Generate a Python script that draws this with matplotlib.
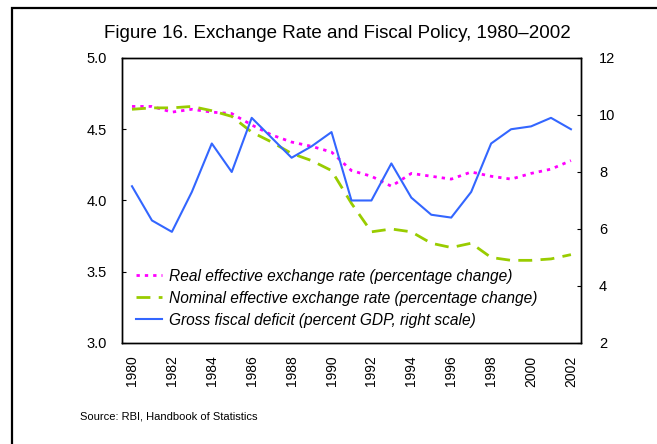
"""
Figure 16. Exchange rate and fiscal policy, 1980-2002.
"""

import matplotlib
matplotlib.use('Agg')
import matplotlib.pyplot as plt
from matplotlib.patches import Rectangle

plt.rcParams['font.family'] = ['Liberation Sans', 'DejaVu Sans']

# Data
years = list(range(1980, 2003))
reer = [4.66, 4.66, 4.62, 4.64, 4.62, 4.61, 4.53, 4.46, 4.41, 4.38, 4.34, 4.21,
        4.17, 4.10, 4.19, 4.17, 4.15, 4.20, 4.17, 4.15, 4.19, 4.22, 4.28]
neer = [4.64, 4.65, 4.65, 4.66, 4.63, 4.59, 4.48, 4.41, 4.33, 4.28, 4.21, 3.98,
        3.78, 3.80, 3.78, 3.70, 3.67, 3.70, 3.60, 3.58, 3.58, 3.59, 3.62]
deficit = [7.5, 6.3, 5.9, 7.3, 9.0, 8.0, 9.9, 9.2, 8.5, 8.9, 9.4, 7.0,
           7.0, 8.3, 7.1, 6.5, 6.4, 7.3, 9.0, 9.5, 9.6, 9.9, 9.5]
labels = ['Real effective exchange rate (percentage change)',
          'Nominal effective exchange rate (percentage change)',
          'Gross fiscal deficit (percent GDP, right scale)']
year_ticks = list(range(1980, 2003, 2))

# Create figure
fig = plt.figure(figsize=(6.57, 4.44), dpi=100)
ax = fig.add_axes([0.1857, 0.2275, 0.6985, 0.6419])
ax2 = ax.twinx()

l1, = ax.plot(years, reer, color='#FF00FF', lw=2.0, linestyle=(0, (1.2, 1.8)))
l2, = ax.plot(years, neer, color='#99CC00', lw=2.0, linestyle=(0, (5, 3)))
l3, = ax2.plot(years, deficit, color='#3366FF', lw=1.5)

# Configure axes
ax.set_xlim(1979.5, 2002.5)
ax.set_ylim(3.0, 5.0)
ax2.set_ylim(2, 12)
ax.set_yticks([3.0, 3.5, 4.0, 4.5, 5.0])
ax.set_yticklabels([f'{v:.1f}' for v in [3.0, 3.5, 4.0, 4.5, 5.0]])
ax2.set_yticks(range(2, 13, 2))
ax.set_xticks(year_ticks)
ax.set_xticklabels([str(y) for y in year_ticks], rotation=90)
ax.tick_params(axis='y', direction='in', length=3, labelsize=10.5, pad=11)
ax.tick_params(axis='x', length=0, labelsize=10, pad=9)
ax2.tick_params(axis='y', direction='in', length=3, labelsize=10.5, pad=13)
for a in (ax, ax2):
    for sp in a.spines.values():
        sp.set_linewidth(1.0)

ax2.legend([l1, l2, l3], labels, loc='lower left', bbox_to_anchor=(0.0, 0.005),
           frameon=False, handlelength=1.7, handletextpad=0.4, labelspacing=0.45,
           prop={'style': 'italic', 'size': 11.2})

# Title, source and outer frame
fig.text(0.514, 0.924, 'Figure 16. Exchange Rate and Fiscal Policy, 1980\u20132002',
         ha='center', va='center', fontsize=13.5)
fig.text(80 / 657, 1 - 416 / 444, 'Source: RBI, Handbook of Statistics',
         ha='left', va='center', fontsize=8)
fig.patches.append(Rectangle((11.5 / 657, -0.1), 1.2, 1 - 8 / 444 + 0.1,
                             transform=fig.transFigure, fill=False,
                             edgecolor='black', lw=1.6))

plt.savefig('out.png', dpi=100)
plt.close()
